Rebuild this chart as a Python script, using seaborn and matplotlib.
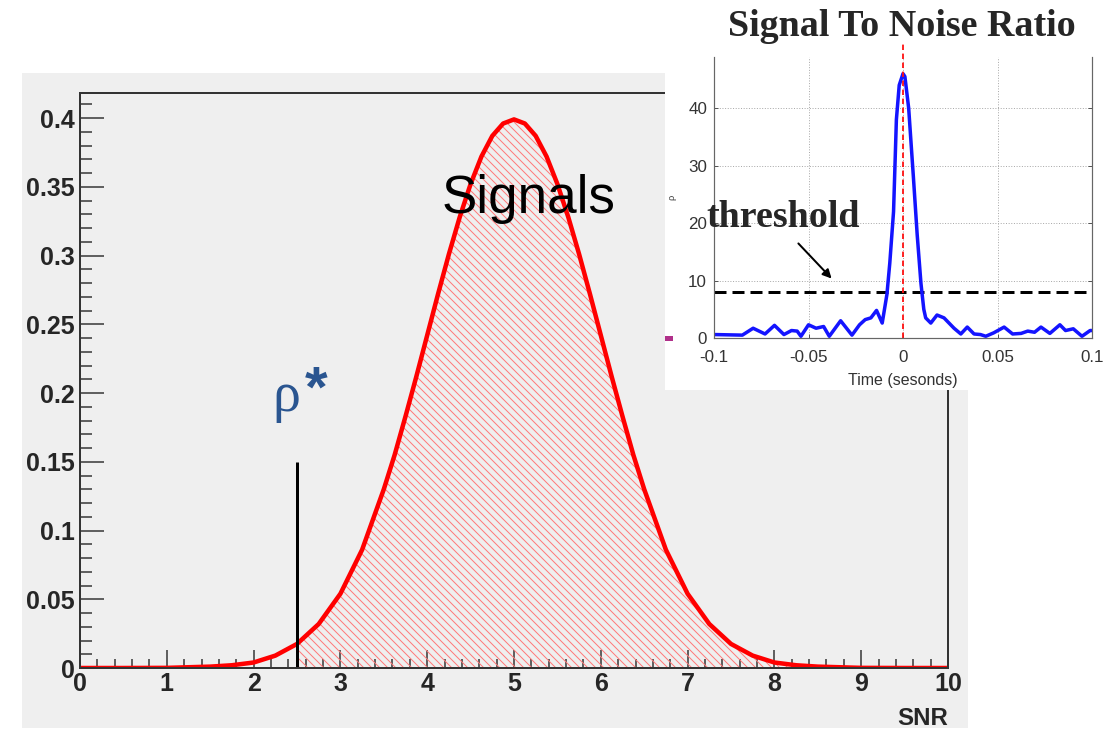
import matplotlib
matplotlib.use("Agg")
import matplotlib.pyplot as plt
import seaborn as sns
import numpy as np
from matplotlib.patches import Rectangle

# ---------------------------------------------------------------------
# Data
# ---------------------------------------------------------------------
snr = [0, 0.5, 1.0, 1.5, 1.75, 2.0, 2.25, 2.5, 2.75, 3.0, 3.25, 3.5, 3.625, 3.75,
       3.875, 4.0, 4.125, 4.25, 4.375, 4.5, 4.625, 4.75, 4.875, 5.0, 5.125, 5.25,
       5.375, 5.5, 5.625, 5.75, 5.875, 6.0, 6.125, 6.25, 6.375, 6.5, 6.75, 7.0,
       7.25, 7.5, 7.75, 8.0, 8.25, 8.5, 9.0, 9.5, 10.0]
density = [0, 0, 0.0001, 0.001, 0.002, 0.004, 0.009, 0.0175, 0.032, 0.054, 0.086,
           0.13, 0.155, 0.183, 0.212, 0.242, 0.272, 0.301, 0.328, 0.352, 0.372,
           0.387, 0.396, 0.399, 0.396, 0.387, 0.372, 0.352, 0.328, 0.301, 0.272,
           0.242, 0.212, 0.183, 0.155, 0.13, 0.086, 0.054, 0.032, 0.0175, 0.009,
           0.004, 0.002, 0.001, 0.0001, 0, 0]
rho_star = 2.5
rho_star_height = 0.15

time_s = [-0.1, -0.085, -0.0793, -0.073, -0.068, -0.063, -0.059, -0.056, -0.054,
          -0.050, -0.046, -0.042, -0.039, -0.033, -0.027, -0.023, -0.020, -0.017,
          -0.014, -0.011, -0.0085, -0.007, -0.005, -0.0035, -0.002, 0.0, 0.001,
          0.003, 0.0055, 0.0075, 0.0095, 0.011, 0.012, 0.0147, 0.018, 0.0217,
          0.027, 0.0306, 0.034, 0.0376, 0.041, 0.0438, 0.048, 0.0535, 0.058,
          0.0625, 0.066, 0.0696, 0.073, 0.0777, 0.083, 0.086, 0.0901, 0.0947,
          0.099, 0.1]
snr_t = [0.6, 0.5, 1.7, 0.7, 2.2, 0.6, 1.3, 1.2, 0.3, 2.3, 1.7, 2.0, 0.3, 3.0,
         0.5, 2.3, 3.2, 3.5, 4.8, 2.6, 7.6, 13, 22, 38, 44, 46, 45.5, 40, 28, 18,
         9.5, 5, 3.5, 2.6, 4.0, 3.5, 1.7, 0.7, 1.9, 0.7, 0.6, 0.3, 0.9, 1.9, 0.7,
         0.8, 1.2, 1.0, 1.9, 0.8, 2.3, 1.3, 1.6, 0.3, 1.3, 1.3]
threshold = 8
event_time = 0.0

# ---------------------------------------------------------------------
# Figure (dpi 72 so that 1 pt == 1 px)
# ---------------------------------------------------------------------
sns.set_theme(style="ticks")
plt.rcParams["font.family"] = ["Liberation Sans", "DejaVu Sans"]
plt.rcParams["hatch.linewidth"] = 1.0

W, H = 1108, 731
fig = plt.figure(figsize=(W / 72, H / 72), dpi=72, facecolor="white")


def box(x0, y0, x1, y1):
    """pixel box (top-left origin) -> figure fraction rect"""
    return [x0 / W, 1 - y1 / H, (x1 - x0) / W, (y1 - y0) / H]


def fpos(x, y):
    return x / W, 1 - y / H


# grey ROOT canvas behind the main plot
r = box(22, 73, 968, 728)
fig.patches.append(Rectangle((r[0], r[1]), r[2], r[3], transform=fig.transFigure,
                             facecolor="#efefef", edgecolor="none", zorder=-1))

# ---------------------------------------------------------------------
# Main plot
# ---------------------------------------------------------------------
ax = fig.add_axes(box(80, 93, 948, 668), zorder=0)
ax.set_facecolor("#efefef")
in_region = [x >= rho_star for x in snr]
ax.fill_between(snr, 0, density, where=in_region, facecolor="none",
                edgecolor="#ff7a7a", hatch="\\\\\\", linewidth=0)
sns.lineplot(x=snr, y=density, ax=ax, color="#ff0000", linewidth=4.5, sort=True)
ax.vlines(rho_star, 0, rho_star_height, color="black", linewidth=3)

ax.set_xlim(0, 10)
ax.set_ylim(0, 0.4182)
ax.set_xticks(range(0, 11))
ax.set_xticks(np.arange(0, 10.01, 0.2), minor=True)
ax.set_yticks([0, 0.05, 0.1, 0.15, 0.2, 0.25, 0.3, 0.35, 0.4])
ax.set_yticklabels(["0", "0.05", "0.1", "0.15", "0.2", "0.25", "0.3", "0.35", "0.4"])
ax.set_yticks(np.arange(0, 0.415, 0.01), minor=True)
ax.tick_params(axis="both", which="both", direction="in", color="#333333",
               width=1.5, labelsize=25)
ax.tick_params(axis="y", which="major", length=24, pad=5)
ax.tick_params(axis="y", which="minor", length=12)
ax.tick_params(axis="x", which="major", length=18, pad=4)
ax.tick_params(axis="x", which="minor", length=9)
for lab in ax.get_xticklabels() + ax.get_yticklabels():
    lab.set_fontweight("bold")
for s in ax.spines.values():
    s.set_color("#333333")
    s.set_linewidth(2)
ax.set_xlabel("")
ax.set_ylabel("")

fig.text(*fpos(529, 213), "Signals", fontsize=53, ha="center",
         va="baseline", color="black")
fig.text(*fpos(272, 411), "ρ", fontsize=56, color="#2a5590",
         family=["Liberation Serif", "DejaVu Serif"], ha="left", va="baseline")
fig.text(*fpos(305, 407), "*", fontsize=58, color="#2a5590", fontweight="bold",
         ha="left", va="baseline")
fig.text(*fpos(948, 725), "SNR", fontsize=24, fontweight="bold",
         ha="right", va="baseline")

# ---------------------------------------------------------------------
# Inset: SNR time series
# ---------------------------------------------------------------------
r = box(665, 0, 1108, 390)
fig.patches.append(Rectangle((r[0], r[1]), r[2], r[3], transform=fig.transFigure,
                             facecolor="white", edgecolor="none", zorder=1))
r = box(665, 336, 673, 341)
fig.patches.append(Rectangle((r[0], r[1]), r[2], r[3], transform=fig.transFigure,
                             facecolor="#b0308a", edgecolor="none", zorder=1.5))

ax2 = fig.add_axes(box(714, 57, 1092, 338), zorder=2)
ax2.set_facecolor("white")
ax2.grid(True, linestyle=":", color="#aaaaaa", linewidth=1)
ax2.axhline(threshold, color="black", linestyle=(0, (4, 2)), linewidth=3)
sns.lineplot(x=time_s, y=snr_t, ax=ax2, color="#1414ff", linewidth=3.5)
ax2.axvline(event_time, ymin=0, ymax=1.05, color="#ff1010",
            linestyle=(0, (3, 2)), linewidth=1.8, clip_on=False)
ax2.set_xlim(-0.1, 0.1)
ax2.set_ylim(0, 48.9)
ax2.set_xticks([-0.1, -0.05, 0, 0.05, 0.1])
ax2.set_xticklabels(["-0.1", "-0.05", "0", "0.05", "0.1"])
ax2.set_yticks([0, 10, 20, 30, 40])
ax2.tick_params(axis="both", direction="in", length=4, width=1, color="#555555",
                labelsize=17, labelcolor="#333333", right=True)
ax2.tick_params(axis="x", pad=12)
ax2.tick_params(axis="y", pad=7)
for side in ["left", "right", "bottom"]:
    ax2.spines[side].set_color("#666666")
    ax2.spines[side].set_linewidth(1.2)
ax2.spines["top"].set_visible(False)
ax2.set_xlabel("Time (sesonds)", fontsize=16, color="#333333", labelpad=8)
ax2.set_ylabel("ρ", fontsize=9, color="#333333", labelpad=12)

ax2.annotate("", xy=fpos(833, 280), xytext=fpos(797, 242),
             xycoords="figure fraction", textcoords="figure fraction",
             arrowprops=dict(arrowstyle="-|>", color="black", lw=2,
                             mutation_scale=18))
fig.text(*fpos(783, 227), "threshold", fontsize=38, fontweight="bold",
         family=["Liberation Serif", "DejaVu Serif"], ha="center",
         va="baseline", zorder=5)
fig.text(*fpos(902, 36), "Signal To Noise Ratio", fontsize=38,
         fontweight="bold", family=["Liberation Serif", "DejaVu Serif"],
         ha="center", va="baseline", zorder=5)

fig.savefig("out.png", dpi=72, facecolor="white")
